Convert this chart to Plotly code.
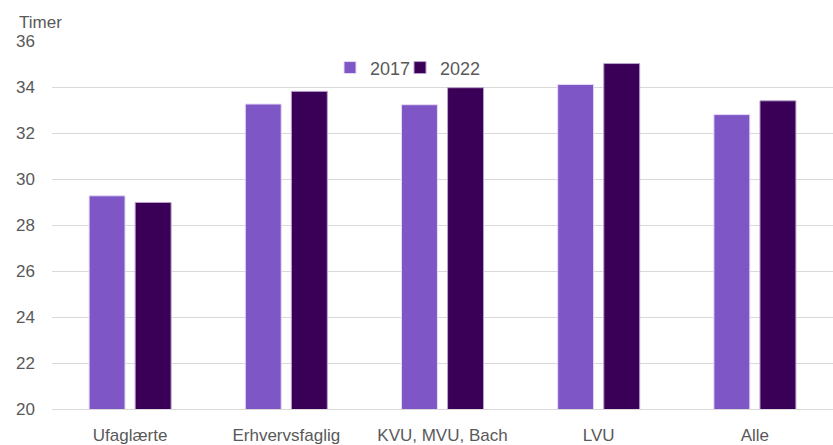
import plotly.graph_objects as go

categories = ["Ufaglærte", "Erhvervsfaglig", "KVU, MVU, Bach", "LVU", "Alle"]
values_2017 = [29.27, 33.26, 33.23, 34.11, 32.8]
values_2022 = [28.98, 33.81, 33.97, 35.02, 33.4]
y_ticks = [20, 22, 24, 26, 28, 30, 32, 34, 36]

W, H = 833, 445
L, R, T, B = 52, 0, 41, 34
PW = W - L

fig = go.Figure()
fig.add_bar(x=categories, y=values_2017, name="2017", legend="legend",
            marker=dict(color="#7e56c6", line=dict(color="#e6dcf5", width=1)))
fig.add_bar(x=categories, y=values_2022, name="2022", legend="legend2",
            marker=dict(color="#3a0057", line=dict(color="#b9a3cc", width=1)))

leg_common = dict(orientation="h", xanchor="left", yanchor="middle",
                  y=(411 - 68) / 370, font=dict(size=18, color="#595959"),
                  bgcolor="rgba(0,0,0,0)", itemwidth=30)

fig.update_layout(
    width=W, height=H,
    margin=dict(l=L, r=R, t=T, b=B),
    paper_bgcolor="white", plot_bgcolor="white",
    barmode="group", bargap=0.41, bargroupgap=0.22,
    font=dict(family="Liberation Sans, Arial, sans-serif", color="#595959", size=17),
    showlegend=True,
    legend=dict(x=(330 - L) / PW, **leg_common),
    legend2=dict(x=(400 - L) / PW, **leg_common),
    annotations=[dict(text="Timer", xref="paper", yref="paper",
                      x=(17 - L) / PW, y=(411 - 22) / 370,
                      xanchor="left", yanchor="middle", showarrow=False,
                      font=dict(size=17, color="#595959"))],
)
fig.update_yaxes(range=[20, 36], tickvals=y_ticks, showgrid=True, gridcolor="#d9d9d9",
                 gridwidth=1, zeroline=False, ticks="", ticklabelstandoff=16,
                 tickfont=dict(size=17, color="#595959"), fixedrange=True)
fig.update_xaxes(showline=True, linecolor="#d9d9d9", linewidth=1, ticks="",
                 tickfont=dict(size=17, color="#595959"), ticklabelstandoff=11)

fig.write_html("out.html", config={"displayModeBar": False},
               post_script="document.body.style.margin='0';document.body.style.overflow='hidden';")
